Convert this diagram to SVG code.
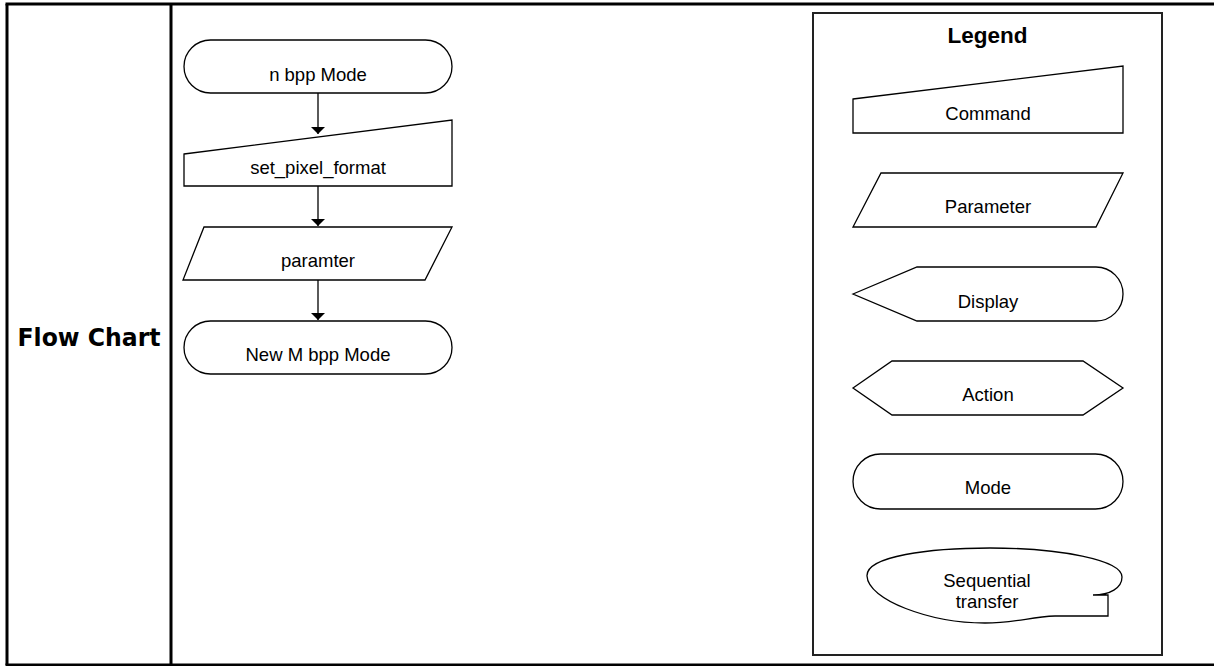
<svg xmlns="http://www.w3.org/2000/svg" width="1215" height="666" viewBox="0 0 1215 666">
<style>
.frame{stroke:#000;stroke-width:3;fill:none}
.shape{fill:#fff;stroke:#000;stroke-width:1.3}
.lbl{font-family:"Liberation Sans",Arial,sans-serif;font-size:18.5px;fill:#000;text-anchor:middle}
.conn{stroke:#000;stroke-width:1.3;fill:none;marker-end:url(#arr)}
</style>
<defs>
<marker id="arr" viewBox="0 0 7 14" refX="7" refY="7" markerWidth="7" markerHeight="14" orient="auto" markerUnits="userSpaceOnUse">
<path d="M0,0 L7,7 L0,14 z" fill="#000"/>
</marker>
</defs>
<rect width="1215" height="666" fill="#fff"/>
<g id="frame">
<line class="frame" x1="5.5" y1="4" x2="1214" y2="4"/>
<line class="frame" x1="5.5" y1="665" x2="1214" y2="665"/>
<line class="frame" x1="7" y1="4" x2="7" y2="665"/>
<line class="frame" x1="171" y1="4" x2="171" y2="665"/>
<text x="89" y="346" font-family="'DejaVu Sans',Verdana,sans-serif" font-weight="bold" font-size="25" text-anchor="middle" textLength="143" lengthAdjust="spacingAndGlyphs">Flow Chart</text>
</g>
<g id="connectors">
<line class="conn" x1="318" y1="93" x2="318" y2="134"/>
<line class="conn" x1="318" y1="186" x2="318" y2="226"/>
<line class="conn" x1="318" y1="280" x2="318" y2="320"/>
</g>
<g id="n-bpp-mode">
<rect class="shape" x="184" y="40" width="268" height="53" rx="26.5" ry="26.5"/>
<text class="lbl" x="318" y="81">n bpp Mode</text>
</g>
<g id="set-pixel-format">
<polygon class="shape" points="184,154 452,120 452,186 184,186"/>
<text class="lbl" x="318" y="174">set_pixel_format</text>
</g>
<g id="paramter">
<polygon class="shape" points="204,227 452,227 425,280 183,280"/>
<text class="lbl" x="318" y="267">paramter</text>
</g>
<g id="new-m-bpp-mode">
<rect class="shape" x="184" y="321" width="268" height="53" rx="26.5" ry="26.5"/>
<text class="lbl" x="318" y="361">New M bpp Mode</text>
</g>
<g id="legend">
<rect x="813" y="13" width="349" height="642" fill="none" stroke="#222" stroke-width="2"/>
<text x="987.5" y="43" font-family="'Liberation Sans',Arial,sans-serif" font-weight="bold" font-size="22.5" text-anchor="middle">Legend</text>
</g>
<g id="legend-command">
<polygon class="shape" points="853,99 1123,66 1123,133 853,133"/>
<text class="lbl" x="988" y="120">Command</text>
</g>
<g id="legend-parameter">
<polygon class="shape" points="881,173 1123,173 1096,227 853,227"/>
<text class="lbl" x="988" y="213">Parameter</text>
</g>
<g id="legend-display">
<path class="shape" d="M853,294 L917,267 H1096 A27,27 0 0 1 1096,321 H917 Z"/>
<text class="lbl" x="988" y="308">Display</text>
</g>
<g id="legend-action">
<polygon class="shape" points="853,388 892,361 1083,361 1123,388 1083,415 892,415"/>
<text class="lbl" x="988" y="401">Action</text>
</g>
<g id="legend-mode">
<rect class="shape" x="853" y="454" width="270" height="55" rx="27.5" ry="27.5"/>
<text class="lbl" x="988" y="494">Mode</text>
</g>
<g id="legend-sequential">
<path class="shape" d="M1055,616 C1030,617 1015,623 985,623 C930,623 868,600 867,576 C866,556 930,548 990,548 C1060,548 1122,560 1122,577 C1122,588 1110,595 1093,595 L1108,595 L1108,616 Z"/>
<text class="lbl" x="987" y="587">Sequential</text>
<text class="lbl" x="987" y="608">transfer</text>
</g>
</svg>
